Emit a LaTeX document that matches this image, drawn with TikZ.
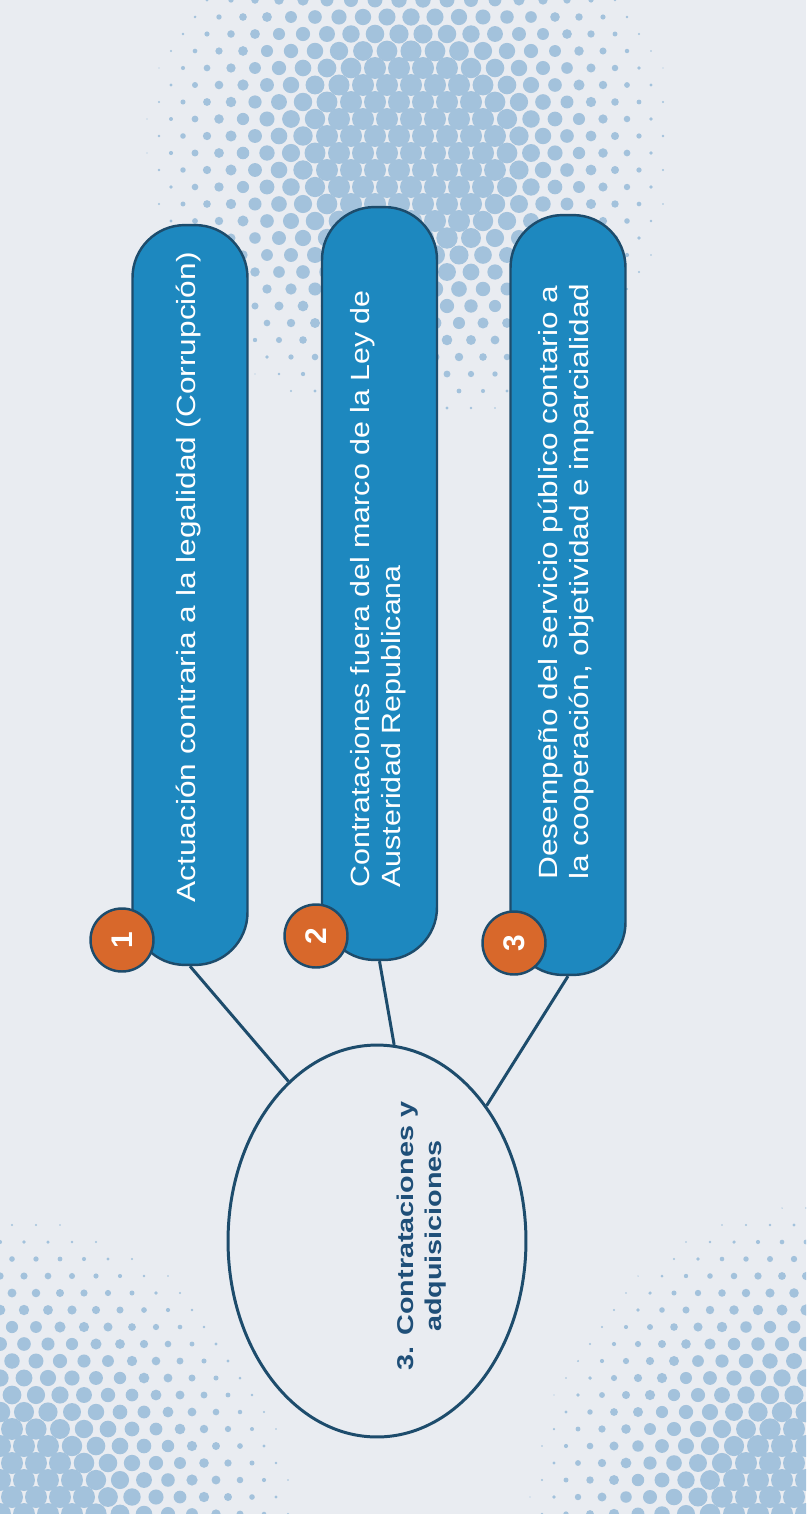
\documentclass[tikz,border=0pt]{standalone}
\usepackage{graphicx}
\usepackage{fontspec}
\setmainfont{Liberation Sans}
\usepackage{tikz}
\usetikzlibrary{shapes.geometric}
\usetikzlibrary{positioning}
\definecolor{paper}{HTML}{E9ECF1}
\definecolor{dotblue}{HTML}{A3C2DC}
\definecolor{barblue}{HTML}{1D88BF}
\definecolor{navy}{HTML}{1D4C6C}
\definecolor{badgeorange}{HTML}{D8682B}
\definecolor{hubtext}{HTML}{1F4F78}

\begin{document}
\begin{tikzpicture}[x=0.02cm,y=-0.02cm,
    bar/.style={draw=navy,line width=1.4pt,fill=barblue,rounded corners=1.05cm,minimum width=2.3cm},
    badge/.style={circle,draw=navy,line width=1.4pt,fill=badgeorange,minimum size=1.26cm,inner sep=0pt,text=white,font=\fontsize{17}{17}\selectfont\bfseries},
    bartext/.style={rotate=90,xscale=1.2,anchor=west,align=left,inner sep=0pt,text=white,font=\fontsize{15}{18}\selectfont},
    link/.style={draw=navy,line width=1.7pt}]
      \useasboundingbox (0,0) rectangle (806,1514);
      \fill[paper] (0,0) rectangle (806,1514);
      \clip (0,0) rectangle (806,1514);
      \foreach \i in {0,...,26}{
        \foreach \j in {0,...,23}{
          \pgfmathsetmacro\dx{135+24*\j+12*mod(\i,2)}
          \pgfmathsetmacro\dy{17*\i}
          \pgfmathsetmacro\dr{min(11,16*(1-sqrt(((\dx-410)/275)^2+((\dy-150)/290)^2)))}
          \ifdim\dr pt>0.6pt \fill[dotblue] (\dx,\dy) circle[radius=\dr*0.02cm]; \fi
        }
      }
      \foreach \i in {0,...,20}{
        \foreach \j in {0,...,14}{
          \pgfmathsetmacro\dx{24*\j+12*mod(\i,2)}
          \pgfmathsetmacro\dy{1514-17*\i}
          \pgfmathsetmacro\dr{min(11,16*(1-sqrt(((\dx+10)/320)^2+((\dy-1530)/330)^2)))}
          \ifdim\dr pt>0.6pt \fill[dotblue] (\dx,\dy) circle[radius=\dr*0.02cm]; \fi
          \pgfmathsetmacro\dx{806-24*\j-12*mod(\i,2)}
          \pgfmathsetmacro\dr{min(11,16*(1-sqrt(((\dx-816)/300)^2+((\dy-1530)/340)^2)))}
          \ifdim\dr pt>0.6pt \fill[dotblue] (\dx,\dy) circle[radius=\dr*0.02cm]; \fi
        }
      }
      \node[ellipse,draw=navy,line width=1.7pt,fill=paper,minimum width=5.96cm,minimum height=7.84cm,inner sep=0pt] (hub) at (377,1241) {};
      \node[rotate=90,xscale=1.26,align=center,text=hubtext,font=\fontsize{13}{16}\selectfont\bfseries] (hubtxt) at (422,1236) {3. Contrataciones y\\adquisiciones};
      \node[bar,minimum height=14.8cm] (b1) at (190,595) {};
      \node[bar,minimum height=15.06cm] (b2) at (379.5,583.5) {};
      \node[bar,minimum height=15.2cm] (b3) at (568,595) {};
      \draw[link] (b1.south) -- (hub.119);
      \draw[link] (b2.south) -- (hub.85.5);
      \draw[link] (b3.south) -- (hub.51);
      \node[bartext] (t1) at (189,903) {Actuación contraria a la legalidad (Corrupción)};
      \node[bartext,xscale=0.96] (t2) at (378,888) {Contrataciones fuera del marco de la Ley de\\Austeridad Republicana};
      \node[bartext] (t3) at (566,880) {Desempeño del servicio público contario a\\la cooperación, objetividad e imparcialidad};
      \node[badge] (n1) at (122,940) {\rotatebox{90}{1}};
      \node[badge] (n2) at (316,936) {\rotatebox{90}{2}};
      \node[badge] (n3) at (514,943) {\rotatebox{90}{3}};
    \end{tikzpicture}
\end{document}
